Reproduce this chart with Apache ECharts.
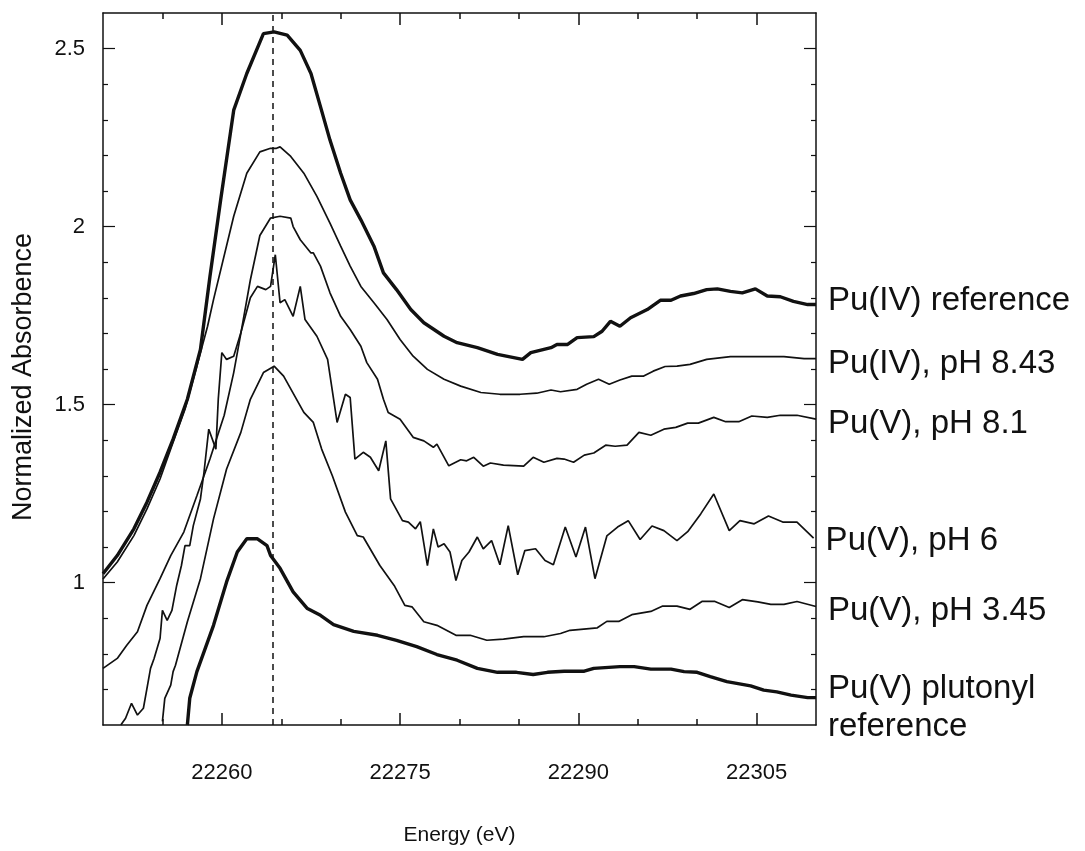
<!DOCTYPE html>
<html lang="en">
<head>
    <meta charset="utf-8">
    <title>Pu L3-edge XANES</title>
    <script src="https://cdn.jsdelivr.net/npm/echarts@6/dist/echarts.min.js"></script>
</head>
<body style="margin:0; background:#fff;">
<div id="main" style="width:1085px; height:851px;"></div>
<script type="text/javascript">
    // energy (eV) / normalized absorbance
    const ivRefE = [22250.0, 22251.2, 22252.6, 22253.7, 22254.8, 22255.9, 22257.1, 22258.2, 22259.0, 22259.9, 22261.0, 22262.1, 22263.5, 22264.4, 22265.5, 22266.6, 22267.5, 22268.3, 22269.1, 22270.0, 22270.8, 22271.7, 22272.8, 22273.6, 22274.7, 22275.9, 22277.0, 22278.7, 22279.8, 22281.5, 22283.2, 22285.3, 22286.0, 22287.7, 22288.2, 22289.1, 22289.9, 22291.3, 22292.0, 22292.7, 22293.5, 22294.4, 22295.8, 22296.9, 22297.8, 22298.6, 22299.7, 22300.8, 22301.7, 22302.8, 22303.8, 22304.9, 22305.9, 22307.0, 22308.1, 22309.3, 22310.0];
    const ivRefA = [1.025, 1.076, 1.151, 1.226, 1.31, 1.403, 1.515, 1.655, 1.86, 2.075, 2.327, 2.43, 2.542, 2.547, 2.538, 2.495, 2.43, 2.337, 2.243, 2.15, 2.075, 2.019, 1.945, 1.87, 1.823, 1.767, 1.73, 1.692, 1.674, 1.66, 1.641, 1.627, 1.646, 1.66, 1.669, 1.669, 1.688, 1.691, 1.706, 1.734, 1.72, 1.744, 1.767, 1.793, 1.793, 1.805, 1.812, 1.823, 1.825, 1.818, 1.814, 1.825, 1.805, 1.803, 1.79, 1.781, 1.781];

    const iv843E = [22250.0, 22251.2, 22252.6, 22253.7, 22254.8, 22255.9, 22256.9, 22257.9, 22258.8, 22259.3, 22261.0, 22262.1, 22263.2, 22264.1, 22264.6, 22264.9, 22265.8, 22266.9, 22268.0, 22269.1, 22270.0, 22270.8, 22271.7, 22272.8, 22273.9, 22275.0, 22276.1, 22277.3, 22278.7, 22280.1, 22281.8, 22283.4, 22285.1, 22286.5, 22287.7, 22288.5, 22289.9, 22290.7, 22291.7, 22292.6, 22293.5, 22294.5, 22295.5, 22296.3, 22297.3, 22298.3, 22299.4, 22300.8, 22302.8, 22304.5, 22307.3, 22309.0, 22310.0];
    const iv843A = [1.01, 1.058, 1.132, 1.207, 1.291, 1.394, 1.487, 1.608, 1.72, 1.795, 2.029, 2.15, 2.21, 2.22, 2.22, 2.224, 2.197, 2.15, 2.085, 2.01, 1.945, 1.889, 1.832, 1.786, 1.739, 1.683, 1.636, 1.599, 1.571, 1.552, 1.534, 1.529, 1.529, 1.532, 1.541, 1.536, 1.543, 1.557, 1.571, 1.557, 1.569, 1.58, 1.58, 1.594, 1.607, 1.608, 1.613, 1.627, 1.635, 1.635, 1.635, 1.629, 1.629];

    const v81E = [22250.0, 22251.2, 22252.0, 22252.9, 22253.7, 22254.8, 22255.7, 22256.8, 22257.9, 22259.0, 22260.2, 22261.0, 22261.6, 22262.4, 22263.2, 22264.1, 22264.9, 22265.8, 22266.0, 22266.6, 22267.5, 22267.7, 22268.3, 22269.1, 22270.0, 22270.8, 22271.7, 22272.2, 22273.1, 22273.6, 22274.0, 22275.0, 22276.1, 22277.0, 22277.8, 22278.1, 22279.1, 22280.1, 22280.6, 22281.2, 22282.0, 22282.6, 22283.7, 22285.4, 22286.2, 22287.1, 22288.2, 22288.8, 22289.6, 22290.5, 22291.3, 22292.3, 22293.1, 22294.1, 22295.1, 22296.1, 22297.2, 22298.2, 22299.2, 22300.1, 22301.4, 22302.4, 22303.5, 22304.6, 22305.9, 22307.0, 22308.4, 22310.0];
    const v81A = [0.759, 0.787, 0.824, 0.862, 0.936, 1.011, 1.076, 1.142, 1.244, 1.347, 1.47, 1.59, 1.70, 1.85, 1.975, 2.024, 2.029, 2.024, 2.0, 1.963, 1.926, 1.926, 1.889, 1.814, 1.748, 1.711, 1.664, 1.618, 1.571, 1.515, 1.478, 1.459, 1.408, 1.398, 1.38, 1.389, 1.328, 1.345, 1.342, 1.352, 1.327, 1.336, 1.33, 1.327, 1.352, 1.338, 1.349, 1.347, 1.338, 1.358, 1.364, 1.386, 1.383, 1.386, 1.422, 1.414, 1.431, 1.436, 1.448, 1.448, 1.464, 1.452, 1.452, 1.468, 1.464, 1.47, 1.47, 1.459];

    const v6E = [22251.5, 22251.9, 22252.4, 22252.9, 22253.4, 22253.7, 22254.0, 22254.3, 22254.8, 22255.0, 22255.4, 22255.8, 22256.2, 22256.6, 22256.9, 22257.3, 22257.6, 22258.2, 22258.5, 22258.9, 22259.5, 22259.7, 22260.0, 22260.4, 22261.0, 22261.6, 22262.4, 22263.0, 22263.7, 22264.1, 22264.5, 22264.9, 22265.3, 22266.0, 22266.6, 22267.0, 22268.0, 22268.9, 22269.7, 22270.4, 22270.8, 22271.2, 22271.9, 22272.5, 22273.2, 22273.8, 22274.2, 22275.2, 22275.7, 22276.3, 22276.7, 22277.3, 22277.8, 22278.2, 22278.7, 22279.2, 22279.7, 22280.2, 22280.8, 22281.5, 22282.0, 22282.7, 22283.4, 22284.1, 22284.9, 22285.5, 22286.4, 22287.2, 22287.9, 22288.9, 22289.8, 22290.6, 22291.4, 22292.4, 22293.3, 22294.2, 22295.2, 22296.2, 22297.2, 22298.3, 22299.2, 22300.3, 22301.4, 22302.7, 22303.6, 22304.8, 22306.0, 22307.2, 22308.4, 22309.8];
    const v6A = [0.6, 0.619, 0.661, 0.628, 0.647, 0.703, 0.759, 0.787, 0.843, 0.922, 0.894, 0.922, 0.992, 1.048, 1.104, 1.104, 1.16, 1.235, 1.31, 1.431, 1.375, 1.515, 1.646, 1.627, 1.636, 1.702, 1.8, 1.832, 1.823, 1.832, 1.921, 1.786, 1.795, 1.748, 1.832, 1.739, 1.692, 1.627, 1.45, 1.529, 1.52, 1.347, 1.366, 1.352, 1.314, 1.398, 1.235, 1.174, 1.17, 1.151, 1.171, 1.048, 1.151, 1.1, 1.109, 1.086, 1.006, 1.062, 1.086, 1.128, 1.095, 1.118, 1.05, 1.16, 1.022, 1.09, 1.095, 1.062, 1.05, 1.156, 1.072, 1.156, 1.011, 1.131, 1.156, 1.174, 1.121, 1.159, 1.146, 1.118, 1.143, 1.193, 1.249, 1.146, 1.174, 1.165, 1.187, 1.17, 1.17, 1.125];

    const v345E = [22255.0, 22255.2, 22255.7, 22255.9, 22256.1, 22257.1, 22258.2, 22259.3, 22260.4, 22261.6, 22262.4, 22263.5, 22264.4, 22265.2, 22266.9, 22267.7, 22268.4, 22269.3, 22270.4, 22271.4, 22271.9, 22273.3, 22274.5, 22275.4, 22276.0, 22277.0, 22278.1, 22279.7, 22280.9, 22282.3, 22283.7, 22285.4, 22287.1, 22288.5, 22289.3, 22291.6, 22292.4, 22293.4, 22294.5, 22296.1, 22297.1, 22298.3, 22299.4, 22300.4, 22301.5, 22302.7, 22303.8, 22305.1, 22306.2, 22307.3, 22308.4, 22310.0];
    const v345A = [0.61, 0.675, 0.712, 0.75, 0.768, 0.89, 1.011, 1.179, 1.319, 1.422, 1.515, 1.59, 1.608, 1.58, 1.478, 1.45, 1.375, 1.3, 1.198, 1.132, 1.128, 1.048, 0.992, 0.936, 0.932, 0.89, 0.88, 0.852, 0.852, 0.838, 0.841, 0.848, 0.848, 0.857, 0.866, 0.873, 0.891, 0.891, 0.91, 0.919, 0.934, 0.934, 0.925, 0.947, 0.947, 0.93, 0.952, 0.946, 0.939, 0.939, 0.947, 0.933];

    const vylE = [22257.1, 22257.3, 22257.9, 22259.3, 22260.4, 22261.3, 22262.1, 22263.0, 22263.8, 22264.1, 22264.9, 22266.0, 22267.2, 22268.3, 22269.4, 22271.1, 22273.1, 22274.7, 22276.4, 22278.1, 22279.8, 22281.5, 22283.2, 22284.8, 22286.2, 22287.4, 22288.8, 22290.5, 22291.3, 22293.5, 22294.7, 22296.1, 22297.8, 22298.9, 22300.0, 22301.1, 22302.5, 22304.5, 22305.6, 22306.7, 22307.9, 22309.3, 22310.0];
    const vylA = [0.6, 0.675, 0.75, 0.88, 1.002, 1.086, 1.123, 1.123, 1.104, 1.076, 1.04, 0.974, 0.927, 0.908, 0.882, 0.863, 0.852, 0.838, 0.82, 0.798, 0.782, 0.759, 0.748, 0.748, 0.742, 0.748, 0.751, 0.751, 0.759, 0.764, 0.764, 0.757, 0.757, 0.75, 0.748, 0.736, 0.722, 0.71, 0.698, 0.693, 0.684, 0.677, 0.677];

    const seriesNames = ['Pu(IV) reference', 'Pu(IV), pH 8.43', 'Pu(V), pH 8.1', 'Pu(V), pH 6', 'Pu(V), pH 3.45', 'Pu(V) plutonyl\nreference'];

    const xMajor = [22260, 22275, 22290, 22305];
    const xMinor = [22255, 22265, 22270, 22280, 22285, 22295, 22300];
    const yMajor = [1, 1.5, 2, 2.5];
    const yMinor = [0.7, 0.8, 0.9, 1.1, 1.2, 1.3, 1.4, 1.6, 1.7, 1.8, 1.9, 2.1, 2.2, 2.3, 2.4];
    const edgeLine = 22264.3;   // dashed marker

    function pairs(xs, ys) {
        return xs.map(function (x, i) { return [x, ys[i]]; });
    }
    function plain(v) { return String(v); }

    const ink = '#111';
    const sans = "'Liberation Sans', Arial, sans-serif";

    function xAx(pos, ticks, len, showLine, showLabel) {
        return {
            type: 'value', position: pos, min: 22250, max: 22310,
            axisLine: { show: showLine, lineStyle: { color: ink, width: 1.5 } },
            axisTick: { show: true, inside: true, length: len, customValues: ticks, lineStyle: { color: ink, width: 1.5 } },
            axisLabel: { show: showLabel, customValues: ticks, formatter: plain, margin: 37, color: ink, fontSize: 22, fontFamily: sans },
            splitLine: { show: false }
        };
    }
    function yAx(pos, ticks, len, showLine, showLabel) {
        return {
            type: 'value', position: pos, min: 0.6, max: 2.6,
            axisLine: { show: showLine, lineStyle: { color: ink, width: 1.5 } },
            axisTick: { show: true, inside: true, length: len, customValues: ticks, lineStyle: { color: ink, width: 1.2 } },
            axisLabel: { show: showLabel, customValues: ticks, formatter: plain, margin: 18, color: ink, fontSize: 22, fontFamily: sans },
            splitLine: { show: false }
        };
    }

    const xAxes = [
        xAx('bottom', xMajor, 12, true, true),
        xAx('bottom', xMinor, 6, false, false),
        xAx('top', xMajor, 12, true, false),
        xAx('top', xMinor, 6, false, false)
    ];
    xAxes[0].name = 'Energy (eV)';
    xAxes[0].nameLocation = 'middle';
    xAxes[0].nameGap = 100;
    xAxes[0].nameTextStyle = { color: ink, fontSize: 21, fontFamily: sans };

    const yAxes = [
        yAx('left', yMajor, 12, true, true),
        yAx('left', yMinor, 5, false, false),
        yAx('right', yMajor, 12, true, false),
        yAx('right', yMinor, 5, false, false)
    ];
    yAxes[0].name = 'Normalized Absorbence';
    yAxes[0].nameLocation = 'middle';
    yAxes[0].nameGap = 66;
    yAxes[0].nameTextStyle = { color: ink, fontSize: 27, fontFamily: sans, padding: [0, 16, 0, 0] };

    function line(name, data, width, offset) {
        return {
            name: name, type: 'line', data: data, showSymbol: false, symbol: 'none',
            xAxisIndex: 0, yAxisIndex: 0, animation: false,
            lineStyle: { color: ink, width: width },
            endLabel: {
                show: true, formatter: name, distance: 12, offset: offset,
                color: ink, fontSize: 33, fontFamily: sans, lineHeight: 38
            }
        };
    }

    const series = [
        line(seriesNames[0], pairs(ivRefE, ivRefA), 3.4, [0, -4]),
        line(seriesNames[1], pairs(iv843E, iv843A), 1.7, [0, 5]),
        line(seriesNames[2], pairs(v81E, v81A), 1.7, [0, 5]),
        line(seriesNames[3], pairs(v6E, v6A), 1.7, [0, 3]),
        line(seriesNames[4], pairs(v345E, v345A), 1.7, [0, 4]),
        line(seriesNames[5], pairs(vylE, vylA), 3.4, [0, 10])
    ];
    series[0].markLine = {
        silent: true, symbol: 'none', label: { show: false },
        lineStyle: { color: ink, width: 1.5, type: [6, 5] },
        data: [{ xAxis: edgeLine }]
    };

    const myChart = echarts.init(document.getElementById('main'), null, { renderer: 'canvas' });
    myChart.setOption({
        backgroundColor: '#fff',
        animation: false,
        grid: { left: 103, right: 269, top: 13, bottom: 124 },
        xAxis: xAxes,
        yAxis: yAxes,
        series: series
    });
</script>
</body>
</html>
